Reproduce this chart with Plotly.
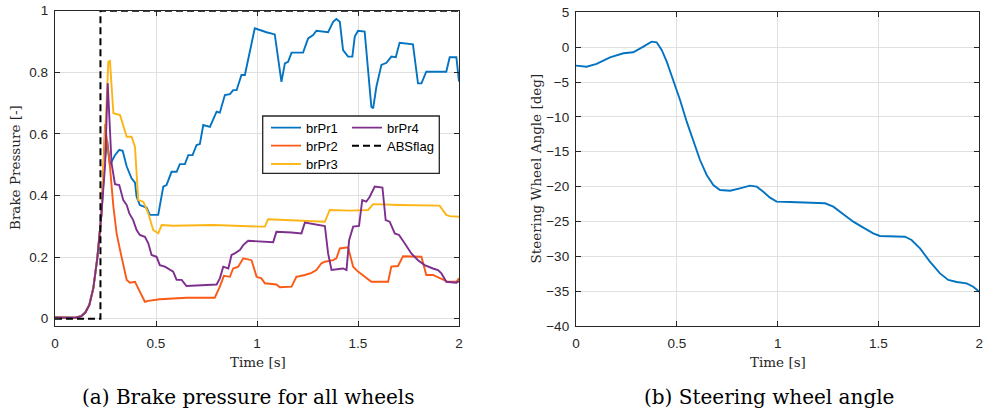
import plotly.graph_objects as go

# ---------------- data ----------------
rise_t = [0.0, 0.05, 0.10, 0.13, 0.15, 0.17, 0.19, 0.21, 0.23]
rise_v = [0.004, 0.003, 0.003, 0.008, 0.02, 0.045, 0.10, 0.20, 0.34]

t1 = rise_t + [0.245, 0.258, 0.272, 0.297, 0.318, 0.335, 0.355, 0.379, 0.396, 0.404, 0.42, 0.453,
               0.47, 0.511, 0.536, 0.552, 0.577, 0.602, 0.618, 0.643, 0.66, 0.681, 0.701, 0.717,
               0.734, 0.767, 0.80, 0.816, 0.841, 0.866, 0.882, 0.899, 0.923, 0.94, 0.989, 1.014,
               1.047, 1.088, 1.105, 1.121, 1.138, 1.154, 1.171, 1.228, 1.253, 1.278, 1.294, 1.352,
               1.377, 1.393, 1.41, 1.426, 1.451, 1.472, 1.484, 1.50, 1.533, 1.55, 1.566, 1.575,
               1.591, 1.616, 1.641, 1.665, 1.687, 1.706, 1.772, 1.797, 1.814, 1.838, 1.937, 1.954,
               1.987, 2.0]
brPr1 = rise_v + [0.50, 0.58, 0.499, 0.531, 0.548, 0.545, 0.494, 0.456, 0.442, 0.396, 0.369, 0.361,
                  0.337, 0.337, 0.429, 0.434, 0.477, 0.477, 0.502, 0.502, 0.531, 0.531, 0.564, 0.567,
                  0.629, 0.623, 0.672, 0.669, 0.726, 0.729, 0.742, 0.742, 0.791, 0.791, 0.943, 0.937,
                  0.930, 0.923, 0.840, 0.769, 0.829, 0.834, 0.864, 0.864, 0.910, 0.921, 0.935, 0.930,
                  0.964, 0.973, 0.964, 0.872, 0.851, 0.851, 0.916, 0.935, 0.932, 0.797, 0.688, 0.683,
                  0.753, 0.824, 0.831, 0.851, 0.849, 0.896, 0.891, 0.764, 0.764, 0.802, 0.802, 0.849,
                  0.849, 0.77]

t2 = rise_t + [0.248, 0.272, 0.289, 0.305, 0.322, 0.338, 0.355, 0.371, 0.396, 0.42, 0.445, 0.462,
               0.519, 0.651, 0.791, 0.816, 0.836, 0.866, 0.882, 0.907, 0.932, 0.973, 0.998, 1.022,
               1.039, 1.096, 1.113, 1.171, 1.195, 1.237, 1.27, 1.294, 1.319, 1.336, 1.377, 1.393,
               1.41, 1.451, 1.476, 1.50, 1.533, 1.566, 1.649, 1.665, 1.698, 1.723, 1.814, 1.838,
               1.871, 1.904, 1.945, 1.987, 2.0]
brPr2 = rise_v + [0.632, 0.494, 0.364, 0.277, 0.223, 0.18, 0.126, 0.117, 0.12, 0.088, 0.055, 0.058,
                  0.063, 0.068, 0.068, 0.104, 0.139, 0.136, 0.163, 0.169, 0.196, 0.19, 0.136, 0.131,
                  0.115, 0.111, 0.102, 0.104, 0.136, 0.142, 0.149, 0.158, 0.18, 0.185, 0.19, 0.196,
                  0.228, 0.232, 0.169, 0.153, 0.136, 0.12, 0.12, 0.169, 0.171, 0.203, 0.201, 0.142,
                  0.142, 0.131, 0.12, 0.12, 0.131]

t3 = rise_t + [0.245, 0.264, 0.272, 0.289, 0.322, 0.338, 0.355, 0.379, 0.396, 0.412, 0.437, 0.462,
               0.486, 0.511, 0.528, 0.585, 0.783, 1.014, 1.039, 1.055, 1.146, 1.336, 1.36, 1.459,
               1.55, 1.575, 1.706, 1.904, 1.937, 1.954, 2.0]
brPr3 = rise_v + [0.55, 0.834, 0.837, 0.667, 0.661, 0.629, 0.591, 0.591, 0.558, 0.385, 0.38, 0.342,
                  0.288, 0.277, 0.304, 0.302, 0.304, 0.299, 0.299, 0.323, 0.32, 0.315, 0.353, 0.351,
                  0.353, 0.372, 0.369, 0.367, 0.337, 0.333, 0.331]

t4 = rise_t + [0.248, 0.261, 0.28, 0.297, 0.318, 0.338, 0.355, 0.368, 0.387, 0.404, 0.42, 0.445,
               0.462, 0.478, 0.503, 0.519, 0.544, 0.561, 0.585, 0.602, 0.627, 0.651, 0.717, 0.80,
               0.816, 0.833, 0.858, 0.874, 0.89, 0.915, 0.932, 0.956, 1.08, 1.096, 1.171, 1.22,
               1.237, 1.311, 1.336, 1.352, 1.369, 1.426, 1.443, 1.456, 1.476, 1.505, 1.521, 1.541,
               1.558, 1.583, 1.621, 1.637, 1.657, 1.682, 1.703, 1.731, 1.764, 1.797, 1.83, 1.871,
               1.896, 1.913, 1.937, 1.987, 2.0]
brPr4 = rise_v + [0.50, 0.764, 0.504, 0.437, 0.434, 0.385, 0.369, 0.342, 0.32, 0.288, 0.272, 0.266,
                  0.245, 0.207, 0.201, 0.174, 0.169, 0.163, 0.153, 0.126, 0.126, 0.106, 0.109, 0.111,
                  0.131, 0.169, 0.163, 0.207, 0.212, 0.223, 0.239, 0.253, 0.248, 0.282, 0.28, 0.277,
                  0.312, 0.304, 0.301, 0.212, 0.158, 0.163, 0.158, 0.255, 0.299, 0.301, 0.385, 0.38,
                  0.396, 0.429, 0.426, 0.32, 0.315, 0.277, 0.272, 0.245, 0.212, 0.19, 0.174, 0.163,
                  0.158, 0.147, 0.12, 0.117, 0.122]

t_abs = [0.0, 0.225, 0.225, 2.0]
ABSflag = [0, 0, 1, 1]

t_sw = [0.0, 0.053, 0.102, 0.169, 0.235, 0.284, 0.334, 0.375, 0.40, 0.425, 0.45, 0.483, 0.516,
        0.549, 0.582, 0.615, 0.648, 0.681, 0.714, 0.764, 0.813, 0.863, 0.896, 0.929, 0.962,
        0.995, 1.061, 1.169, 1.235, 1.276, 1.326, 1.375, 1.425, 1.474, 1.507, 1.574, 1.631,
        1.664, 1.706, 1.755, 1.805, 1.846, 1.888, 1.937, 1.97, 2.0]
steer = [-2.65, -2.8, -2.41, -1.46, -0.88, -0.74, 0.07, 0.79, 0.7, -0.4, -2.08, -4.71, -7.58,
         -10.69, -13.56, -16.19, -18.34, -19.77, -20.49, -20.59, -20.25, -19.87, -20.01, -20.73,
         -21.59, -22.16, -22.21, -22.31, -22.4, -22.88, -23.98, -25.03, -25.89, -26.71, -27.09,
         -27.19, -27.19, -27.66, -28.86, -30.77, -32.45, -33.4, -33.69, -33.88, -34.36, -35.08]

x_ticks = [0, 0.5, 1, 1.5, 2]
y1_ticks = [0, 0.2, 0.4, 0.6, 0.8, 1]
y2_ticks = [-40, -35, -30, -25, -20, -15, -10, -5, 0, 5]

# ---------------- styling / layout helpers ----------------
C_BLUE, C_ORANGE, C_YELLOW, C_PURPLE = "#0474C2", "#FA5A16", "#FDB515", "#7E2F8E"
AX = "#262626"
SANS = "Liberation Sans, Arial, sans-serif"
SERIF = "DejaVu Serif, serif"
LW = 1.9
W, H = 987, 412


def px(x):
    return x / W


def py(y):
    return 1 - y / H


fig = go.Figure()
fig.add_trace(go.Scatter(x=t1, y=brPr1, mode="lines", name="brPr1", legend="legend",
                         line=dict(color=C_BLUE, width=LW)))
fig.add_trace(go.Scatter(x=t2, y=brPr2, mode="lines", name="brPr2", legend="legend2",
                         line=dict(color=C_ORANGE, width=LW)))
fig.add_trace(go.Scatter(x=t3, y=brPr3, mode="lines", name="brPr3", legend="legend3",
                         line=dict(color=C_YELLOW, width=LW)))
fig.add_trace(go.Scatter(x=t4, y=brPr4, mode="lines", name="brPr4", legend="legend4",
                         line=dict(color=C_PURPLE, width=LW)))
fig.add_trace(go.Scatter(x=t_abs, y=ABSflag, mode="lines", name="ABSflag", legend="legend5",
                         line=dict(color="black", width=2, dash="7px,4px")))
fig.add_trace(go.Scatter(x=t_sw, y=steer, mode="lines", showlegend=False,
                         xaxis="x2", yaxis="y2", line=dict(color=C_BLUE, width=LW)))

axis_common = dict(showline=True, linecolor=AX, linewidth=1.3, mirror="ticks",
                   ticks="inside", ticklen=5, tickwidth=1.1, tickcolor=AX, automargin=False,
                   ticklabeloverflow="allow",
                   showgrid=True, gridcolor="#E0E0E0", gridwidth=1, zeroline=False,
                   tickfont=dict(family=SANS, size=13.5, color=AX))

leg_common = dict(xanchor="left", yanchor="middle", orientation="v",
                  bgcolor="rgba(0,0,0,0)", borderwidth=0,
                  font=dict(family=SANS, size=13, color="black"), tracegroupgap=0)

COL1, COL2 = 266, 347
ROW1, ROW2, ROW3 = 127.7, 145.7, 164

fig.update_layout(
    width=W, height=H, margin=dict(l=0, r=0, t=0, b=0, autoexpand=False),
    paper_bgcolor="white", plot_bgcolor="white",
    xaxis=dict(domain=[px(55), px(459)], range=[0, 2], tickvals=x_ticks,
               anchor="y", ticklabelstandoff=5, **axis_common),
    yaxis=dict(domain=[py(325.7), py(10.7)], range=[-0.0227, 1], tickvals=y1_ticks,
               anchor="x", ticklabelstandoff=3, **axis_common),
    xaxis2=dict(domain=[px(576), px(979.3)], range=[0, 2], tickvals=x_ticks,
                anchor="y2", ticklabelstandoff=5, **axis_common),
    yaxis2=dict(domain=[py(326), py(12.3)], range=[-40, 5], tickvals=y2_ticks,
                anchor="x2", ticklabelstandoff=3, **axis_common),
    legend=dict(x=px(COL1), y=py(ROW1), **leg_common),
    legend2=dict(x=px(COL1), y=py(ROW2), **leg_common),
    legend3=dict(x=px(COL1), y=py(ROW3), **leg_common),
    legend4=dict(x=px(COL2), y=py(ROW1), **leg_common),
    legend5=dict(x=px(COL2), y=py(ROW2), **leg_common),
    showlegend=True,
)

# legend frame
fig.add_shape(type="rect", xref="paper", yref="paper", layer="above",
              x0=px(262.7), x1=px(439.3), y0=py(173.3), y1=py(116),
              fillcolor="white", line=dict(color=AX, width=1.3))

ann = [
    dict(text="Time [s]", x=px(257.5), y=py(362), textangle=0),
    dict(text="Brake Pressure [-]", x=px(15), y=py(168), textangle=-90),
    dict(text="Time [s]", x=px(777.5), y=py(362), textangle=0),
    dict(text="Steering Wheel Angle [deg]", x=px(535), y=py(168.5), textangle=-90),
]
for a in ann:
    fig.add_annotation(xref="paper", yref="paper", showarrow=False, xanchor="center",
                       yanchor="middle", font=dict(family=SERIF, size=13.5, color=AX), **a)

for txt, xc in [("(a) Brake pressure for all wheels", px(248)),
                ("(b) Steering wheel angle", px(769))]:
    fig.add_annotation(text=txt, xref="paper", yref="paper", x=xc, y=py(397),
                       showarrow=False, xanchor="center", yanchor="middle",
                       font=dict(family=SERIF, size=20, color="black"))

# remove the browser's default page margin so the figure sits at the window origin
fig.write_html("out.html", config={"displayModeBar": False},
               post_script="document.body.style.margin='0px';document.body.style.overflow='hidden';")
